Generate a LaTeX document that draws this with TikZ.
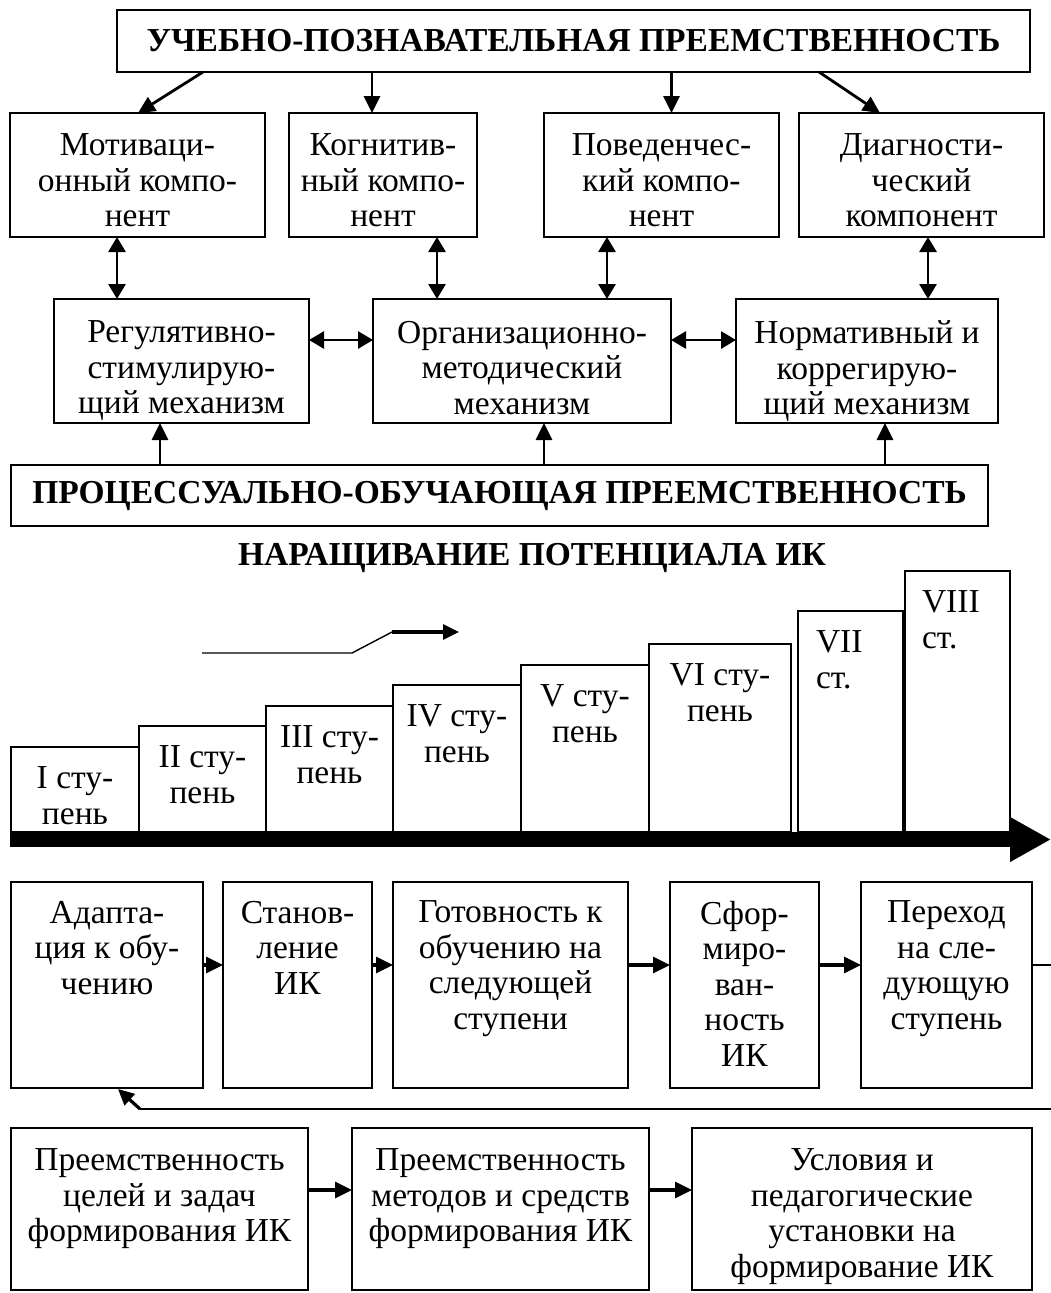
\documentclass[tikz,border=0pt]{standalone}
\usepackage{fontspec}
\setmainfont{Liberation Serif}
\usetikzlibrary{arrows.meta,calc}

\begin{document}
\begin{tikzpicture}[x=1pt,y=-1pt,
  every node/.style={font=\fontsize{33.5}{35.5}\selectfont},
  box/.style={draw, line width=1.4pt, inner sep=0pt, outer sep=0pt, anchor=north west, align=center},
  stepbox/.style={draw, line width=1.3pt, inner sep=0pt, outer sep=0pt, anchor=north west},
  lbl/.style={inner sep=0pt, outer sep=0pt, align=center, anchor=north},
  head/.style={font=\fontsize{33.5}{35.5}\selectfont\bfseries},
  arr/.style={line width=2.8pt, -{Triangle[length=17pt,width=16pt]}},
  darr/.style={line width=2.8pt, {Triangle[length=15pt,width=17pt]}-{Triangle[length=15pt,width=17pt]}},
  ln/.style={line width=1.4pt}
]
\useasboundingbox (0,0) rectangle (1051,1293);

% ---- upper block: components and mechanisms ----
\node[box, head, minimum width=913, minimum height=62] (upp) at (117,10) {УЧЕБНО-ПОЗНАВАТЕЛЬНАЯ ПРЕЕМСТВЕННОСТЬ};

\node[box, minimum width=255, minimum height=124] (mot) at (10,113) {};
\node[box, minimum width=188, minimum height=124] (kog) at (289,113) {};
\node[box, minimum width=235, minimum height=124] (pov) at (544,113) {};
\node[box, minimum width=245, minimum height=124] (dia) at (799,113) {};
\node[lbl] (mott) at ([yshift=-21pt]mot.north) {Мотиваци-\\онный компо-\\нент};
\node[lbl] (kogt) at ([yshift=-21pt]kog.north) {Когнитив-\\ный компо-\\нент};
\node[lbl] (povt) at ([yshift=-21pt]pov.north) {Поведенчес-\\кий компо-\\нент};
\node[lbl] (diat) at ([yshift=-21pt]dia.north) {Диагности-\\ческий\\компонент};

\node[box, minimum width=255, minimum height=124] (reg) at (54,299) {};
\node[box, minimum width=298, minimum height=124] (org) at (373,299) {};
\node[box, minimum width=262, minimum height=124] (nor) at (736,299) {};
\node[lbl] (regt) at ([yshift=-22pt]reg.north) {Регулятивно-\\стимулирую-\\щий механизм};
\node[lbl] (orgt) at ([yshift=-22pt]org.north) {Организационно-\\методический\\механизм};
\node[lbl] (nort) at ([yshift=-22pt]nor.north) {Нормативный и\\коррегирую-\\щий механизм};

\node[box, head, minimum width=977, minimum height=61] (poo) at (11,465) {ПРОЦЕССУАЛЬНО-ОБУЧАЮЩАЯ ПРЕЕМСТВЕННОСТЬ};

% arrows from the top heading
\draw[arr] ([xshift=86pt]upp.south west) -- ([xshift=128pt]mot.north west);
\coordinate (k1) at ([xshift=-11pt]kog.north);
\draw[arr] (k1 |- upp.south) -- (k1);
\coordinate (p1) at ([xshift=10pt]pov.north);
\draw[arr] (p1 |- upp.south) -- (p1);
\draw[arr] ([xshift=702pt]upp.south west) -- ([xshift=81pt]dia.north west);

% components <-> mechanisms
\coordinate (v1) at ([xshift=107pt]mot.south west);
\draw[darr] (v1) -- (v1 |- reg.north);
\coordinate (v2) at ([xshift=148pt]kog.south west);
\draw[darr] (v2) -- (v2 |- org.north);
\coordinate (v3) at ([xshift=63pt]pov.south west);
\draw[darr] (v3) -- (v3 |- org.north);
\coordinate (v4) at ([xshift=129pt]dia.south west);
\draw[darr] (v4) -- (v4 |- nor.north);

% mechanisms <-> mechanisms
\draw[darr] ([yshift=-41pt]reg.north east) -- ([yshift=-41pt]org.north west);
\draw[darr] ([yshift=-41pt]org.north east) -- ([yshift=-41pt]nor.north west);

% process continuity feeds the mechanisms
\coordinate (u1) at ([xshift=106pt]reg.south west);
\draw[arr] (u1 |- poo.north) -- (u1);
\coordinate (u2) at ([xshift=171pt]org.south west);
\draw[arr] (u2 |- poo.north) -- (u2);
\coordinate (u3) at ([xshift=149pt]nor.south west);
\draw[arr] (u3 |- poo.north) -- (u3);

% ---- staircase of stages ----
\node[head, inner sep=0pt] (nar) at (532,558) {НАРАЩИВАНИЕ ПОТЕНЦИАЛА ИК};

\node[stepbox, minimum width=128, minimum height=85] (s1) at (11,747) {};
\node[stepbox, minimum width=127, minimum height=106] (s2) at (139,726) {};
\node[stepbox, minimum width=127, minimum height=126] (s3) at (266,706) {};
\node[stepbox, minimum width=128, minimum height=147] (s4) at (393,685) {};
\node[stepbox, minimum width=128, minimum height=167] (s5) at (521,665) {};
\node[stepbox, minimum width=142, minimum height=188] (s6) at (649,644) {};
\node[stepbox, minimum width=105, minimum height=221] (s7) at (798,611) {};
\node[stepbox, minimum width=105, minimum height=261] (s8) at (905,571) {};

\node[lbl] (s1t) at ([yshift=-20pt]s1.north) {I сту-\\пень};
\node[lbl] (s2t) at ([yshift=-20pt]s2.north) {II сту-\\пень};
\node[lbl] (s3t) at ([yshift=-20pt]s3.north) {III сту-\\пень};
\node[lbl] (s4t) at ([yshift=-20pt]s4.north) {IV сту-\\пень};
\node[lbl] (s5t) at ([yshift=-20pt]s5.north) {V сту-\\пень};
\node[lbl] (s6t) at ([yshift=-20pt]s6.north) {VI сту-\\пень};
\node[lbl, anchor=north west, align=left] (s7t) at ([xshift=18pt,yshift=-20pt]s7.north west) {VII\\ст.};
\node[lbl, anchor=north west, align=left] (s8t) at ([xshift=17pt,yshift=-20pt]s8.north west) {VIII\\ст.};

% time axis
\coordinate (ax0) at (10,839.5);
\coordinate (ax1) at (1051,839.5);
\draw[line width=15pt, -{Triangle[length=41pt,width=42pt]}] (ax0) -- (ax1);

% growth sign
\coordinate (g0) at (202,653);
\coordinate (g1) at (352,653);
\coordinate (g2) at (392,632);
\coordinate (g3) at (459,632);
\draw[ln] (g0) -- (g1) -- (g2);
\draw[line width=3.2pt, -{Triangle[length=16pt,width=15pt]}] (g2) -- (g3);

% ---- cycle of one stage ----
\node[box, minimum width=192, minimum height=206] (a1) at (11,882) {};
\node[box, minimum width=149, minimum height=206] (a2) at (223,882) {};
\node[box, minimum width=235, minimum height=206] (a3) at (393,882) {};
\node[box, minimum width=149, minimum height=206] (a4) at (670,882) {};
\node[box, minimum width=171, minimum height=206] (a5) at (861,882) {};

\node[lbl] (a1t) at ([yshift=-19pt]a1.north) {Адапта-\\ция к обу-\\чению};
\node[lbl] (a2t) at ([yshift=-19pt]a2.north) {Станов-\\ление\\ИК};
\node[lbl] (a3t) at ([yshift=-19pt]a3.north) {Готовность к\\обучению на\\следующей\\ступени};
\node[lbl] (a4t) at ([yshift=-19pt]a4.north) {Сфор-\\миро-\\ван-\\ность\\ИК};
\node[lbl] (a5t) at ([yshift=-19pt]a5.north) {Переход\\на сле-\\дующую\\ступень};

\draw[arr, line width=3.2pt] ([yshift=-83pt]a1.north east) -- ([yshift=-83pt]a2.north west);
\draw[arr, line width=3.2pt] ([yshift=-83pt]a2.north east) -- ([yshift=-83pt]a3.north west);
\draw[arr, line width=3.2pt] ([yshift=-83pt]a3.north east) -- ([yshift=-83pt]a4.north west);
\draw[arr, line width=3.2pt] ([yshift=-83pt]a4.north east) -- ([yshift=-83pt]a5.north west);

\coordinate (out) at (1051,965);
\draw[ln] ([yshift=-83pt]a5.north east) -- (out);

% return to the start of the cycle
\coordinate (fb0) at (1051,1109);
\coordinate (fb1) at (140,1109);
\draw[ln] (fb0) -- (fb1);
\draw[line width=3.2pt, -{Triangle[length=16pt,width=15pt]}] (fb1) -- ([xshift=11pt,yshift=-1pt]a1.south);

% ---- continuity of aims, methods and conditions ----
\node[box, minimum width=297, minimum height=162] (b1) at (11,1128) {};
\node[box, minimum width=297, minimum height=162] (b2) at (352,1128) {};
\node[box, minimum width=340, minimum height=162] (b3) at (692,1128) {};

\node[lbl] (b1t) at ([yshift=-21pt]b1.north) {Преемственность\\целей и задач\\формирования ИК};
\node[lbl] (b2t) at ([yshift=-21pt]b2.north) {Преемственность\\методов и средств\\формирования ИК};
\node[lbl] (b3t) at ([yshift=-21pt]b3.north) {Условия и\\педагогические\\установки на\\формирование ИК};

\draw[arr, line width=3.2pt] ([yshift=-62pt]b1.north east) -- ([yshift=-62pt]b2.north west);
\draw[arr, line width=3.2pt] ([yshift=-62pt]b2.north east) -- ([yshift=-62pt]b3.north west);

\end{tikzpicture}
\end{document}
